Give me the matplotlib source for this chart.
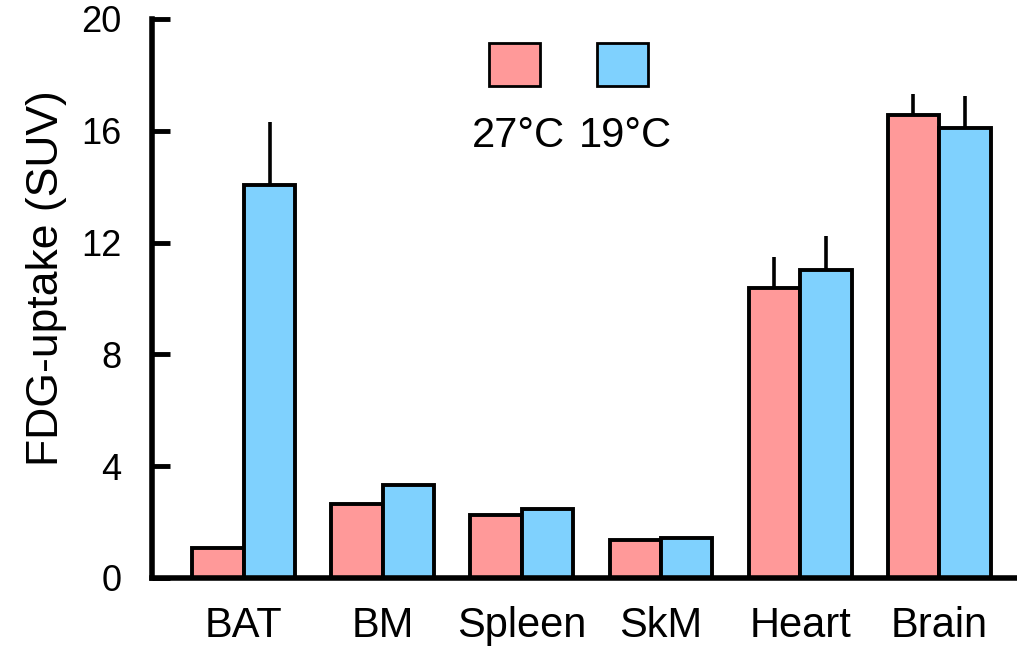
import numpy as np
import matplotlib
matplotlib.use('Agg')
from matplotlib import pyplot as plt
from matplotlib.patches import Rectangle

plt.rcParams['font.family'] = ['Liberation Sans', 'DejaVu Sans']

# data
tissues = ['BAT', 'BM', 'Spleen', 'SkM', 'Heart', 'Brain']
warm = [1.07, 2.65, 2.25, 1.36, 10.38, 16.57]     # 27 C
cold = [14.06, 3.33, 2.47, 1.43, 11.02, 16.1]     # 19 C
warm_err = [0.0, 0.0, 0.0, 0.0, 1.1, 0.75]
cold_err = [2.25, 0.0, 0.0, 0.0, 1.2, 1.15]
labels = ['27\u00b0C', '19\u00b0C']
yticks = [0, 4, 8, 12, 16, 20]

red = '#ff9999'
blue = '#7fd1fe'

fig = plt.figure(figsize=(10.17, 6.52), dpi=100)
ax = fig.add_axes([0.1495, 0.1135, 0.8505, 0.8574])

x = np.arange(len(tissues))
w = 0.37

#error bars first so bars cover the lower half
ax.errorbar(x - w/2, warm, yerr=[np.zeros(len(x)), warm_err], fmt='none',
            ecolor='black', elinewidth=2.6, capsize=0, zorder=1)
ax.errorbar(x + w/2, cold, yerr=[np.zeros(len(x)), cold_err], fmt='none',
            ecolor='black', elinewidth=2.6, capsize=0, zorder=1)

ax.bar(x - w/2, warm, w, color=red, edgecolor='black', linewidth=2.8, zorder=2)
ax.bar(x + w/2, cold, w, color=blue, edgecolor='black', linewidth=2.8, zorder=2)

ax.set_xlim(-0.66, 5.56)
ax.set_ylim(0, 20)
ax.set_yticks(yticks)
ax.set_xticks(x)
ax.set_xticklabels(tissues)
ax.tick_params(axis='x', length=0, pad=20, labelsize=30)
ax.tick_params(axis='y', direction='in', length=13, width=3.5, pad=22, labelsize=26)
ax.set_ylabel('FDG-uptake (SUV)', fontsize=32)
ax.yaxis.set_label_coords(-0.098, 0.537)

for s in ['top', 'right']:
    ax.spines[s].set_visible(False)
ax.spines['left'].set_linewidth(4)
ax.spines['bottom'].set_linewidth(4)

#legend: boxes with labels underneath
for xx, col, lab in [(0.390, red, labels[0]), (0.514, blue, labels[1])]:
    ax.add_patch(Rectangle((xx, 0.880), 0.059, 0.077, transform=ax.transAxes,
                           facecolor=col, edgecolor='black', linewidth=2, clip_on=False))
    ax.text(xx + 0.0295 + 0.004, 0.79, lab, transform=ax.transAxes,
            ha='center', va='center', fontsize=30)

fig.savefig('out.png', dpi=100)
